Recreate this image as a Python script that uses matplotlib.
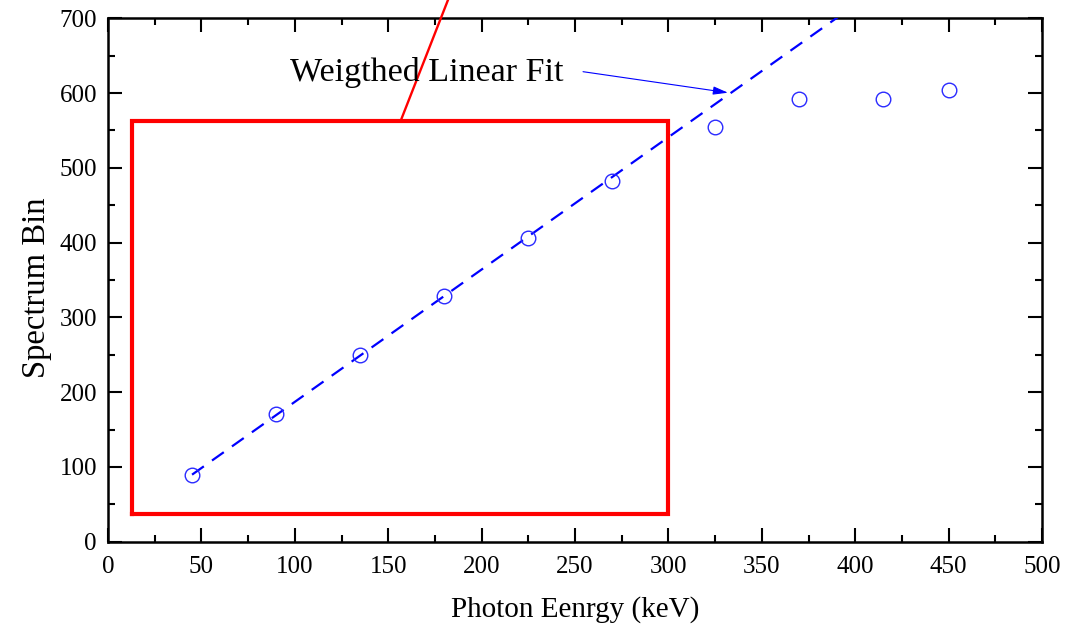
import matplotlib
matplotlib.use("Agg")
import matplotlib.pyplot as plt
import numpy as np
from matplotlib.ticker import MultipleLocator

# Data
energy_keV = [45, 90, 135, 180, 225, 270, 325, 370, 415, 450]
spectrum_bin = [89, 171, 250, 328, 406, 483, 555, 592, 592, 604]

# Weighted linear fit
fit_slope = 1.77
fit_intercept = 10.0
fit_x_range = [45, 420]

# Red highlight box (data coords)
box_x = [13, 300]
box_y = [37, 563]
# Red pointer line (data coords)
pointer_x = [156.7, 186.0]
pointer_y = [563, 750]

annot_text = "Weigthed Linear Fit"

plt.rcParams['font.family'] = ['Liberation Serif', 'DejaVu Serif']

fig = plt.figure(figsize=(10.89, 6.28), dpi=100)
ax = fig.add_axes([108/1089, 1 - 541.7/628, (1042-108)/1089, (541.7-18.3)/628])

fx = np.array(fit_x_range, dtype=float)
ax.plot(fx, fit_slope * fx + fit_intercept, color='#0000ff', lw=1.6,
        dashes=(6.5, 4.5), zorder=3)
ax.plot(energy_keV, spectrum_bin, linestyle='none', marker='o', markersize=10.5,
        markerfacecolor='none', markeredgecolor='#2a2aff', markeredgewidth=1.0, zorder=4)

# Red box
ax.plot([box_x[0], box_x[1], box_x[1], box_x[0], box_x[0]],
        [box_y[0], box_y[0], box_y[1], box_y[1], box_y[0]],
        color='#ff0000', lw=3.0, solid_joinstyle='miter', zorder=5, clip_on=False)
ax.plot(pointer_x, pointer_y, color='#ff0000', lw=1.7, zorder=5, clip_on=False)

# Annotation
ax.annotate('', xy=(331.9, 600.5), xytext=(254.3, 628.6),
            arrowprops=dict(arrowstyle='-|>,head_length=0.9,head_width=0.25',
                            color='#0000ff', lw=0.8, shrinkA=0, shrinkB=0), zorder=6)
ax.text(97.3, 628, annot_text, fontsize=24.5, ha='left', va='center', zorder=6)

ax.set_xlim(0, 500)
ax.set_ylim(0, 700)
ax.xaxis.set_major_locator(MultipleLocator(50))
ax.xaxis.set_minor_locator(MultipleLocator(25))
ax.yaxis.set_major_locator(MultipleLocator(100))
ax.yaxis.set_minor_locator(MultipleLocator(50))
ax.tick_params(which='both', direction='in', top=True, right=True, width=1.5,
               labelsize=18, colors='black')
ax.tick_params(which='major', length=10)
ax.tick_params(axis='x', which='major', pad=10)
ax.tick_params(axis='y', which='major', pad=8)
ax.tick_params(which='minor', length=5)
for s in ax.spines.values():
    s.set_linewidth(1.8)

ax.set_xlabel('Photon Eenrgy (keV)', fontsize=21, labelpad=13)
ax.set_ylabel('Spectrum Bin', fontsize=23.5, labelpad=5)
ax.yaxis.label.set_y(0.486)

fig.savefig('out.png', dpi=100)
